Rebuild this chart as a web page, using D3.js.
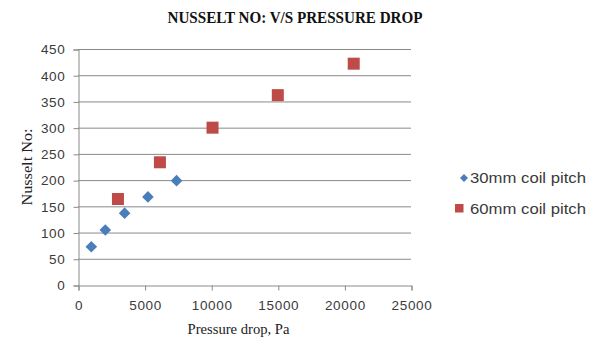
<!DOCTYPE html>
<html>
<head>
<meta charset="utf-8">
<script src="https://cdn.jsdelivr.net/npm/d3@7/dist/d3.min.js"></script>
<style>
  html, body { margin: 0; padding: 0; background: #fff; }
  svg { display: block; }
</style>
</head>
<body>
<svg id="chart" width="589" height="341"></svg>
<script>
// Pressure drop (Pa) and Nusselt number for two coil pitches
const pitch30Drop = [1000, 2050, 3500, 5250, 7400];
const pitch30Nu   = [73, 105, 137, 168, 199];
const pitch60Drop = [3000, 6150, 10100, 15000, 20700];
const pitch60Nu   = [164, 234, 300, 362, 422];
const seriesNames = ["30mm coil pitch", "60mm coil pitch"];
const xTicks = [0, 5000, 10000, 15000, 20000, 25000];
const yTicks = [0, 50, 100, 150, 200, 250, 300, 350, 400, 450];

const svg = d3.select("#chart");
const plot = { left: 78, right: 411, top: 49, bottom: 285 };

const x = d3.scaleLinear().domain([0, 25000]).range([plot.left, plot.right]);
const y = d3.scaleLinear().domain([0, 450]).range([plot.bottom, plot.top]);

const gridColor = "#8a8a8a";
const tickFont = "'Liberation Sans', Arial, sans-serif";
const tickColor = "#3a3a3a";
const serif = "'Liberation Serif', 'Times New Roman', serif";

// horizontal gridlines
svg.append("g")
  .selectAll("line")
  .data(yTicks.filter(d => d > 0))
  .join("line")
  .attr("x1", plot.left).attr("x2", plot.right)
  .attr("y1", d => y(d) + 0.5).attr("y2", d => y(d) + 0.5)
  .attr("stroke", gridColor).attr("stroke-width", 1);

// y axis
const yAxis = svg.append("g")
  .attr("transform", `translate(${plot.left + 0.5},0.5)`)
  .call(d3.axisLeft(y).tickValues(yTicks).tickSize(5).tickPadding(8).tickFormat(d3.format("d")));

// x axis
const xAxis = svg.append("g")
  .attr("transform", `translate(0.5,${plot.bottom + 0.5})`)
  .call(d3.axisBottom(x).tickValues(xTicks).tickSize(5).tickPadding(10).tickFormat(d3.format("d")));

[xAxis, yAxis].forEach(g => {
  g.select(".domain").attr("stroke", gridColor);
  g.selectAll(".tick line").attr("stroke", gridColor);
  g.selectAll(".tick text")
    .attr("fill", tickColor)
    .style("font-family", tickFont)
    .style("font-size", "13.5px")
    .style("letter-spacing", "0.7px");
});

// 30mm series: blue diamonds
const diamond = (cx, cy, r) => `M${cx},${cy - r}L${cx + r},${cy}L${cx},${cy + r}L${cx - r},${cy}Z`;
svg.append("g")
  .selectAll("path")
  .data(pitch30Drop.map((d, i) => [d, pitch30Nu[i]]))
  .join("path")
  .attr("d", d => diamond(x(d[0]), y(d[1]), 5.8))
  .attr("fill", "#4a7ebb");

// 60mm series: red squares
const sq = 12;
svg.append("g")
  .selectAll("rect")
  .data(pitch60Drop.map((d, i) => [d, pitch60Nu[i]]))
  .join("rect")
  .attr("x", d => x(d[0]) - sq / 2)
  .attr("y", d => y(d[1]) - sq / 2)
  .attr("width", sq).attr("height", sq)
  .attr("fill", "#be4b48");

// title
svg.append("text")
  .attr("x", 295).attr("y", 23)
  .attr("text-anchor", "middle")
  .attr("textLength", 255).attr("lengthAdjust", "spacingAndGlyphs")
  .style("font-family", serif)
  .style("font-weight", "bold")
  .style("font-size", "16px")
  .attr("fill", "#111")
  .text("NUSSELT NO: V/S PRESSURE  DROP");

// axis titles
svg.append("text")
  .attr("x", (plot.left + plot.right) / 2 - 6).attr("y", 334)
  .attr("text-anchor", "middle")
  .attr("textLength", 102).attr("lengthAdjust", "spacingAndGlyphs")
  .style("font-family", serif)
  .style("font-size", "14px")
  .attr("fill", "#222")
  .text("Pressure drop, Pa");

svg.append("text")
  .attr("transform", `translate(32,${(plot.top + plot.bottom) / 2}) rotate(-90)`)
  .attr("text-anchor", "middle")
  .attr("textLength", 77).attr("lengthAdjust", "spacingAndGlyphs")
  .style("font-family", serif)
  .style("font-size", "15px")
  .attr("fill", "#222")
  .text("Nusselt No:");

// legend
const legend = svg.append("g");
legend.append("path").attr("d", diamond(464, 178, 4)).attr("fill", "#4a7ebb");
legend.append("rect").attr("x", 455).attr("y", 204).attr("width", 8.5).attr("height", 8.5).attr("fill", "#be4b48");
legend.selectAll("text")
  .data(seriesNames)
  .join("text")
  .attr("x", 470)
  .attr("y", (d, i) => 183 + i * 31)
  .attr("textLength", 116).attr("lengthAdjust", "spacingAndGlyphs")
  .style("font-family", tickFont)
  .style("font-size", "14px")
  .attr("fill", tickColor)
  .text(d => d);
</script>
</body>
</html>
